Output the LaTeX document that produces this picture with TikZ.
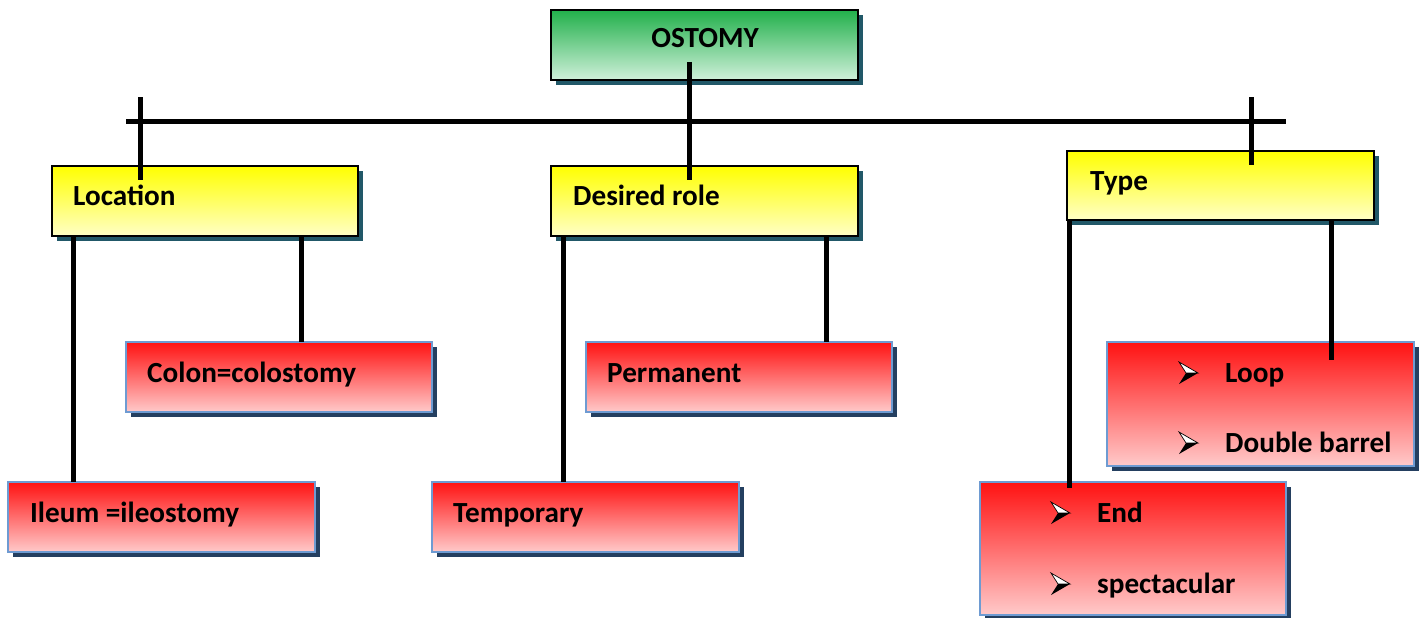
\documentclass[tikz,border=0pt]{standalone}
\usepackage{fontspec}
\setmainfont{Carlito}
\usetikzlibrary{calc,shadows}

\definecolor{rootTop}{HTML}{22B04B}
\definecolor{rootBot}{HTML}{CFF0DA}
\definecolor{catTop}{HTML}{FFFF00}
\definecolor{catBot}{HTML}{FFFFC6}
\definecolor{leafTop}{HTML}{FF1212}
\definecolor{leafBot}{HTML}{FFCACA}
\definecolor{leafEdge}{HTML}{6E9BD2}
\definecolor{shadeTeal}{HTML}{215868}
\definecolor{shadeNavy}{HTML}{243F60}

\tikzset{
  boxbase/.style={rectangle, anchor=north west, inner sep=0pt, outer sep=0pt},
  rootbox/.style={boxbase, draw=black, line width=2.5pt,
    top color=rootTop, bottom color=rootBot,
    drop shadow={shadow xshift=5pt, shadow yshift=-5pt, fill=shadeTeal, opacity=1}},
  catbox/.style={boxbase, draw=black, line width=2.5pt,
    top color=catTop, bottom color=catBot,
    drop shadow={shadow xshift=5pt, shadow yshift=-5pt, fill=shadeTeal, opacity=1}},
  leafbox/.style={boxbase, draw=leafEdge, line width=2pt,
    top color=leafTop, bottom color=leafBot,
    drop shadow={shadow xshift=5pt, shadow yshift=-5pt, fill=shadeNavy, opacity=1}},
  lbl/.style={font=\fontsize{29.2}{35}\selectfont\bfseries, inner sep=0pt, anchor=base west},
  conn/.style={draw=black, line width=5pt},
  arrowbul/.pic={
    \draw[line width=0.7pt, fill=white, line join=miter] (0,-11) -- (19,0) -- (7,0) -- cycle;
    \fill[black] (7,0) -- (19,0) -- (0,11) -- cycle;
  }
}

\begin{document}
\begin{tikzpicture}[x=1pt, y=-1pt]
\useasboundingbox (0,0) rectangle (1421,618);

% boxes
\node[rootbox, minimum width=307pt, minimum height=70pt] (ostomy) at (551,10) {};
\node[catbox, minimum width=306pt, minimum height=70pt] (loc) at (52,166) {};
\node[catbox, minimum width=307pt, minimum height=70pt] (role) at (551,166) {};
\node[catbox, minimum width=307pt, minimum height=69pt] (type) at (1067,151) {};
\node[leafbox, minimum width=306pt, minimum height=70pt] (colon) at (126,342) {};
\node[leafbox, minimum width=306pt, minimum height=70pt] (perm) at (586,342) {};
\node[leafbox, minimum width=307pt, minimum height=70pt] (ileum) at (8,482) {};
\node[leafbox, minimum width=307pt, minimum height=70pt] (temp) at (432,482) {};
\node[leafbox, minimum width=307pt, minimum height=124pt] (loop) at (1107,342) {};
\node[leafbox, minimum width=306pt, minimum height=133pt] (endb) at (980,482) {};

% labels
\node[lbl, anchor=base] (t-ostomy) at (705,48) {OSTOMY};
\node[lbl] (t-loc) at (73,205) {Location};
\node[lbl] (t-role) at (573,205) {Desired role};
\node[lbl] (t-type) at (1090,190) {Type};
\node[lbl] (t-colon) at (147,382) {Colon=colostomy};
\node[lbl] (t-perm) at (607,382) {Permanent};
\node[lbl] (t-ileum) at (30,522) {Ileum =ileostomy};
\node[lbl] (t-temp) at (453,522) {Temporary};
\node[lbl] (t-loop) at (1225,382) {Loop};
\node[lbl] (t-dbl) at (1225,452) {Double barrel};
\node[lbl] (t-end) at (1097,522) {End};
\node[lbl] (t-spec) at (1097,593) {spectacular};

\pic at (1179,373) {arrowbul};
\pic at (1179,443) {arrowbul};
\pic at (1051,513) {arrowbul};
\pic at (1051,584) {arrowbul};

% connectors
\coordinate (barL) at (126,121);
\coordinate (barR) at (1286,121);
\coordinate (locTop) at (140,97);
\coordinate (typeTop) at (1251,97);
\coordinate (rootDrop) at ($(ostomy.south)+(-15.5,-18)$);
\draw[conn] (barL) -- (barR);
\draw[conn] (rootDrop) -- ($(rootDrop |- role.north)+(0,14)$);
\draw[conn] (locTop) -- ($(locTop |- loc.north)+(0,14)$);
\draw[conn] (typeTop) -- ($(typeTop |- type.north)+(0,14)$);

\draw[conn] ($(loc.south west)+(21,0)$) coordinate (a1) -- (a1 |- ileum.north);
\draw[conn] ($(loc.south west)+(249,0)$) coordinate (a2) -- (a2 |- colon.north);
\draw[conn] ($(role.south west)+(12,0)$) coordinate (a3) -- (a3 |- temp.north);
\draw[conn] ($(role.south west)+(275,0)$) coordinate (a4) -- (a4 |- perm.north);
\draw[conn] ($(type.south west)+(2,0)$) coordinate (a5) -- ($(a5 |- endb.north)+(0,6)$);
\draw[conn] ($(type.south west)+(264,0)$) coordinate (a6) -- ($(a6 |- loop.north)+(0,18)$);
\end{tikzpicture}
\end{document}
